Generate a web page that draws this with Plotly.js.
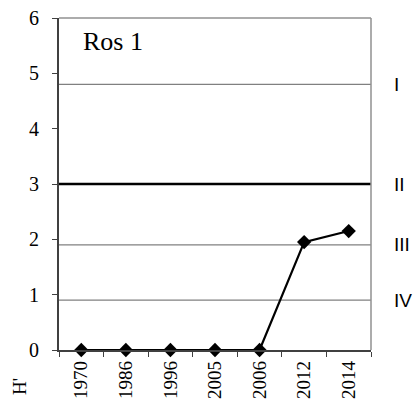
<!DOCTYPE html>
<html>
<head>
<meta charset="utf-8">
<script src="https://cdn.plot.ly/plotly-3.0.1.min.js"></script>
<style>html,body{margin:0;padding:0;background:#fff;}#chart{width:414px;height:401px;}</style>
</head>
<body>
<div id="chart"></div>
<script>
var years = ['1970','1986','1996','2005','2006','2012','2014'];
var hValues = [0, 0, 0, 0, 0, 1.95, 2.15];
var classLevels = [4.8, 3.0, 1.9, 0.9];
var classLabels = ['I', 'II', 'III', 'IV'];
var siteName = 'Ros 1';
var yTitle = "H'";

var serif = 'Liberation Serif';
var sans = 'Liberation Sans';

var shapes = classLevels.map(function (v, i) {
  var main = classLabels[i] === 'II';
  return {type: 'line', xref: 'paper', yref: 'y', x0: 0, x1: 1, y0: v, y1: v,
          line: {color: main ? '#000000' : '#808080', width: main ? 2.5 : 1.3}, layer: 'below'};
});
shapes.push({type: 'line', xref: 'paper', yref: 'paper', x0: 1, x1: 1, y0: 0, y1: 1,
             line: {color: '#909090', width: 1.5}});
shapes.push({type: 'line', xref: 'paper', yref: 'paper', x0: 0, x1: 1, y0: 1, y1: 1,
             line: {color: '#909090', width: 1.5}});

var annotations = classLevels.map(function (v, i) {
  return {xref: 'paper', yref: 'y', x: 1, y: v, xanchor: 'left', yanchor: 'middle',
          xshift: 21, text: classLabels[i], showarrow: false,
          font: {family: sans, size: 19, color: '#000'}};
});
annotations.push({xref: 'paper', yref: 'paper', x: 0.072, y: 0.928, xanchor: 'left', yanchor: 'middle',
                  text: siteName, showarrow: false,
                  font: {family: serif, size: 26, color: '#000'}});
annotations.push({xref: 'paper', yref: 'paper', x: 0, y: 0, xanchor: 'center', yanchor: 'middle',
                  xshift: -40, yshift: -37, text: yTitle, textangle: -90, showarrow: false,
                  font: {family: serif, size: 19, color: '#000'}});

var trace = {
  x: years, y: hValues, type: 'scatter', mode: 'lines+markers',
  line: {color: '#000', width: 2.2},
  marker: {symbol: 'diamond', size: 11, color: '#000'},
  cliponaxis: false
};

var layout = {
  width: 414, height: 401,
  margin: {l: 59, r: 43, t: 18, b: 51, pad: 0},
  paper_bgcolor: '#fff', plot_bgcolor: '#fff',
  showlegend: false,
  font: {family: serif, size: 19, color: '#000'},
  xaxis: {
    type: 'category', range: [-0.5, 6.5], showgrid: false, zeroline: false,
    showline: true, linecolor: '#404040', linewidth: 1.5, mirror: false,
    ticks: 'outside', tickson: 'boundaries', ticklen: 5, tickcolor: '#404040', tickwidth: 1,
    tickangle: -90, tickfont: {family: serif, size: 19},
    ticklabelstandoff: 2, fixedrange: true
  },
  yaxis: {
    range: [0, 6], dtick: 1, showgrid: false, zeroline: false,
    showline: true, linecolor: '#404040', linewidth: 2,
    ticks: 'outside', ticklen: 5, tickcolor: '#404040', tickwidth: 1,
    tickfont: {family: serif, size: 20},
    ticklabelstandoff: 9, fixedrange: true
  },
  shapes: shapes,
  annotations: annotations
};

Plotly.newPlot('chart', [trace], layout, {displayModeBar: false, staticPlot: true});
</script>
</body>
</html>
